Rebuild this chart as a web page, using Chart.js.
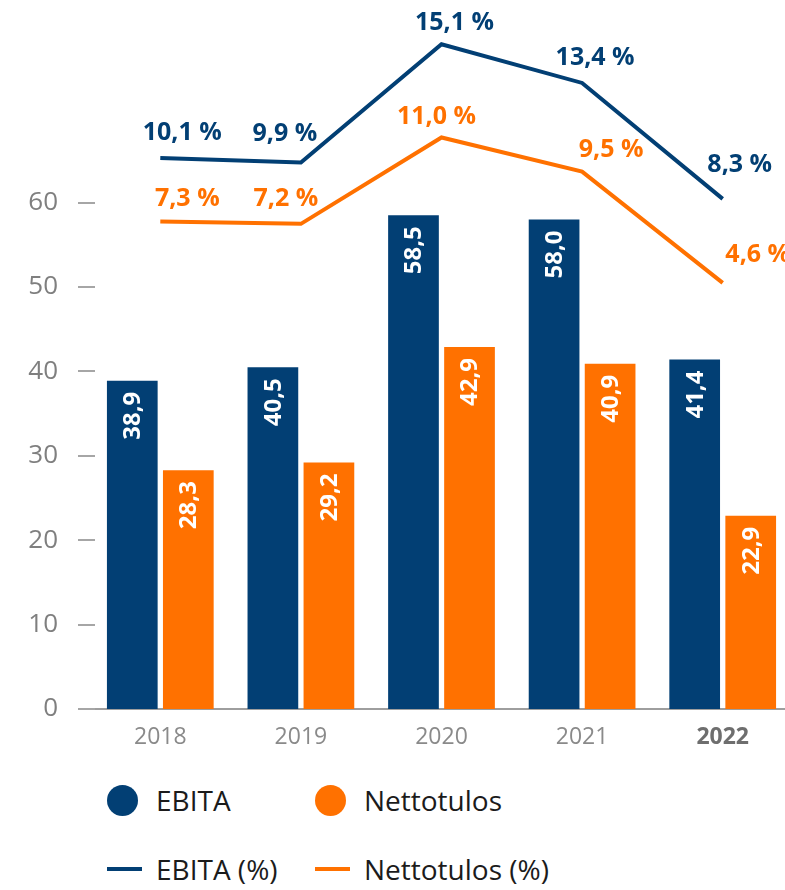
<!DOCTYPE html>
<html>
<head>
<meta charset="utf-8">
<title>EBITA ja nettotulos</title>
<script src="https://cdn.jsdelivr.net/npm/chart.js@4.4.1/dist/chart.umd.min.js"></script>
<style>
  html, body { margin: 0; padding: 0; background: #fff; overflow: hidden; width: 785px; height: 890px; }
  #wrap { position: relative; width: 793px; height: 890px; }
  #chart { position: absolute; left: 0; top: 0; }
  #legend {
    position: absolute; left: 107px; top: 783px;
    display: grid; grid-template-columns: 208px auto; row-gap: 35px;
    font-family: "Open Sans", sans-serif; font-size: 28px; color: #1b1b1b;
  }
  .item { display: flex; align-items: center; height: 34px; }
  .mark { width: 49px; flex: none; display: flex; align-items: center; }
  .dot { width: 31px; height: 31px; border-radius: 50%; }
  .dash { width: 35px; height: 4px; }
</style>
</head>
<body>
<div id="wrap">
  <canvas id="chart" width="793" height="761"></canvas>
  <div id="legend"></div>
</div>
<script>
// Vuodet ja sarjat (milj. euroa ja prosenttia liikevaihdosta)
const years = ['2018', '2019', '2020', '2021', '2022'];
const ebita = [38.9, 40.5, 58.5, 58.0, 41.4];
const nettotulos = [28.3, 29.2, 42.9, 40.9, 22.9];
const ebitaPct = [10.1, 9.9, 15.1, 13.4, 8.3];
const nettotulosPct = [7.3, 7.2, 11.0, 9.5, 4.6];
const yTicks = [0, 10, 20, 30, 40, 50, 60];

const BLUE = '#023f74';
const ORANGE = '#ff7100';

// Label placement around the line points: [dx, dy] of the label centre
const pctLabelShift = {
  ebita: [[22, -25], [-16, -29], [13, -21], [13, -25], [17, -34]],
  netto: [[27, -23], [-15, -25], [-5, -21], [29, -22], [35, -28]]
};

const fmt = v => v.toFixed(1).replace('.', ',');

Chart.defaults.font.family = '"Open Sans", sans-serif';

// Short tick marks on the value axis, crossing slightly into the plot
const yTickMarks = {
  id: 'yTickMarks',
  afterDraw(chart) {
    const s = chart.scales.y, ctx = chart.ctx, left = chart.chartArea.left;
    ctx.save();
    ctx.strokeStyle = '#a6a6a6';
    ctx.lineWidth = 2;
    s.ticks.forEach(t => {
      const y = Math.round(s.getPixelForValue(t.value));
      ctx.beginPath();
      ctx.moveTo(left - 12, y);
      ctx.lineTo(left + 5, y);
      ctx.stroke();
    });
    ctx.restore();
  }
};

// Value labels: rotated inside the bars, and above the percentage lines
const valueLabels = {
  id: 'valueLabels',
  afterDatasetsDraw(chart) {
    const ctx = chart.ctx;
    chart.data.datasets.forEach((ds, di) => {
      const meta = chart.getDatasetMeta(di);
      meta.data.forEach((el, i) => {
        const v = ds.data[i];
        ctx.save();
        if (ds.type === 'bar') {
          ctx.translate(el.x, el.y + 11);
          ctx.rotate(-Math.PI / 2);
          ctx.textAlign = 'right';
          ctx.textBaseline = 'middle';
          ctx.fillStyle = '#ffffff';
          ctx.font = 'bold 24px "Open Sans"';
          ctx.fillText(fmt(v), 0, 1);
        } else {
          const [dx, dy] = pctLabelShift[ds.key][i];
          ctx.textAlign = 'center';
          ctx.textBaseline = 'middle';
          ctx.fillStyle = ds.borderColor;
          ctx.font = 'bold 25px "Open Sans"';
          ctx.fillText(fmt(v) + ' %', el.x + dx, el.y + dy);
        }
        ctx.restore();
      });
    });
  }
};

// Two-column legend below the chart
const htmlLegend = {
  id: 'htmlLegend',
  afterUpdate(chart) {
    const box = document.getElementById('legend');
    box.innerHTML = '';
    chart.data.datasets.forEach(ds => {
      const item = document.createElement('div');
      item.className = 'item';
      const mark = document.createElement('span');
      mark.className = 'mark';
      const sw = document.createElement('span');
      sw.className = ds.type === 'bar' ? 'dot' : 'dash';
      sw.style.background = ds.type === 'bar' ? ds.backgroundColor : ds.borderColor;
      mark.appendChild(sw);
      const txt = document.createElement('span');
      txt.textContent = ds.label;
      item.appendChild(mark);
      item.appendChild(txt);
      box.appendChild(item);
    });
  }
};

new Chart(document.getElementById('chart'), {
  data: {
    labels: years,
    datasets: [
      { type: 'bar', label: 'EBITA', data: ebita, backgroundColor: BLUE, yAxisID: 'y' },
      { type: 'bar', label: 'Nettotulos', data: nettotulos, backgroundColor: ORANGE, yAxisID: 'y' },
      { type: 'line', key: 'ebita', label: 'EBITA (%)', data: ebitaPct, borderColor: BLUE, backgroundColor: BLUE,
        borderWidth: 4, pointRadius: 0, tension: 0, yAxisID: 'y2' },
      { type: 'line', key: 'netto', label: 'Nettotulos (%)', data: nettotulosPct, borderColor: ORANGE, backgroundColor: ORANGE,
        borderWidth: 4, pointRadius: 0, tension: 0, yAxisID: 'y2' }
    ]
  },
  options: {
    responsive: false,
    animation: false,
    events: [],
    layout: { padding: 0 },
    datasets: { bar: { categoryPercentage: 0.797, barPercentage: 0.905 } },
    plugins: { legend: { display: false }, tooltip: { enabled: false } },
    scales: {
      x: {
        grid: { display: false, drawTicks: false },
        border: { display: true, color: '#9e9e9e', width: 2 },
        ticks: {
          padding: 15,
          color: c => c.index === 4 ? '#6e6e6e' : '#8a8a8a',
          font: c => c.index === 4 ? { size: 23, weight: 'bold' } : { size: 23 }
        },
        afterFit: s => { s.height = 52; s.paddingLeft = 0; s.paddingRight = 0; }
      },
      y: {
        position: 'left', min: 0, max: 84,
        grid: { display: false },
        border: { display: false },
        ticks: { padding: 24, color: '#7f7f7f', font: { size: 26 } },
        afterBuildTicks: s => { s.ticks = yTicks.map(v => ({ value: v })); },
        afterFit: s => { s.width = 90; s.paddingTop = 0; s.paddingBottom = 0; }
      },
      y2: { display: false, position: 'right', min: -14.15, max: 17.05 }
    }
  },
  plugins: [yTickMarks, valueLabels, htmlLegend]
});
</script>
</body>
</html>
